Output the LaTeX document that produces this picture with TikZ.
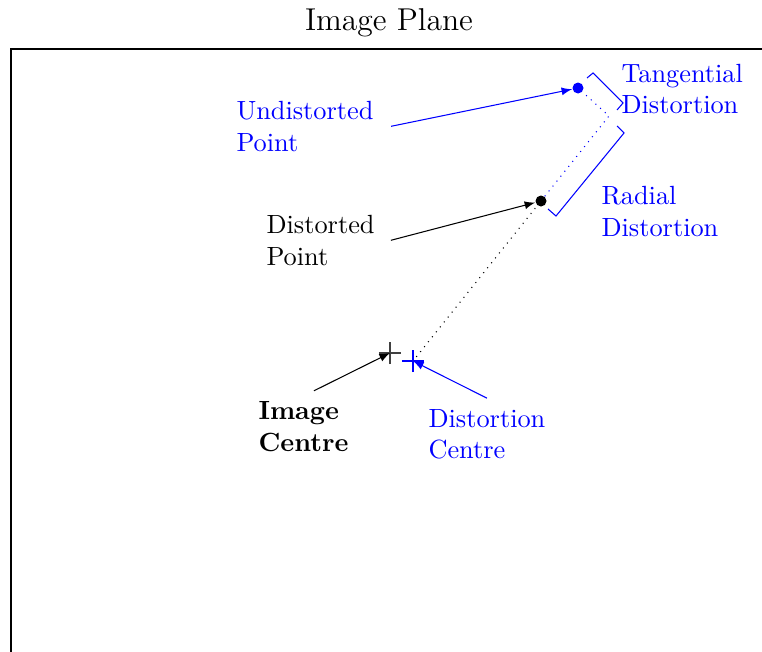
\documentclass[tikz,border=0pt]{standalone}
\usetikzlibrary{arrows}
\begin{document}
\begin{tikzpicture}[x=0.38pt,y=-0.38pt,
  lbl/.style={anchor=north west,inner sep=0pt,align=left,font=\normalsize},
  bl/.style={blue},
  dotpt/.style={circle,inner sep=0pt,minimum size=11*0.38pt},
  thin line/.style={line width=0.4pt},
  arr/.style={-latex,line width=0.4pt}]
\useasboundingbox (0,0) rectangle (762,651);
\begin{scope}
\clip (0,0) rectangle (762,651);
\draw[line width=0.75pt] (11,800) -- (11,49) -- (900,49);
\end{scope}
\node[font=\large,anchor=base] (title) at (389,30) {Image Plane};

% points
\node[dotpt,fill=blue] (up) at (578,88) {};
\node[dotpt,fill=black] (dp) at (541,201) {};
\coordinate (ic) at (390,353);
\coordinate (dc) at (413,361);
\coordinate (ext) at (609,116);

% crosses
\draw[thin line,black!75] ([xshift=-4.2pt]ic) -- ([xshift=4.2pt]ic) ([yshift=-4.2pt]ic) -- ([yshift=4.2pt]ic);
\draw[thin line,blue] ([xshift=-4.2pt]dc) -- ([xshift=4.2pt]dc) ([yshift=-4.2pt]dc) -- ([yshift=4.2pt]dc);

% dotted lines
\draw[thin line,dotted,shorten <=2pt] (dc) -- (dp);
\draw[thin line,dotted,blue] (dp) -- (ext) -- (up);

% brackets
\draw[thin line,blue] (617,126) -- (624,133) -- (556,216) -- (548,209);
\draw[thin line,blue] (587,78) -- (593,73) -- (623,103) -- (617,110);

% labels
\node[lbl,bl] (ulabel) at (236,100.7) {Undistorted\\Point};
\node[lbl] (dlabel) at (266,214.7) {Distorted\\Point};
\node[lbl,font=\bfseries] (icl) at (258,401.3) {Image\\Centre};
\node[lbl,bl] (dcl) at (428,408.7) {Distortion\\Centre};
\node[lbl,bl] (tl) at (621,63.4) {Tangential\\Distortion};
\node[lbl,bl] (rl) at (601,185.7) {Radial\\Distortion};

% arrows
\draw[arr,blue] ([xshift=6.5pt]ulabel.east) -- (up);
\draw[arr] ([xshift=6pt]dlabel.east) -- (dp);
\draw[arr] ([xshift=4pt,yshift=4pt]icl.north) -- (ic);
\draw[arr,blue] ([yshift=4pt]dcl.north) -- (dc);
\end{tikzpicture}
\end{document}
